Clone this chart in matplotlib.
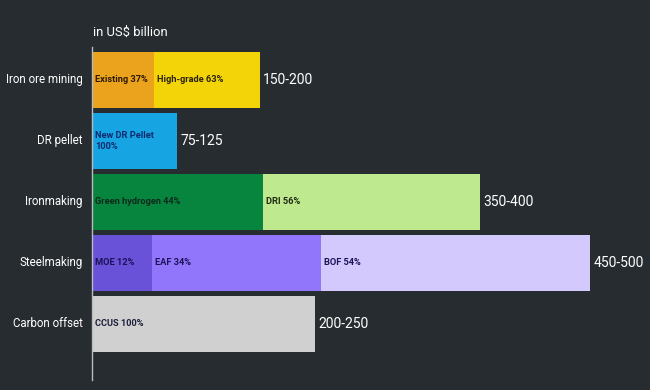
import matplotlib.pyplot as plt

# values in US$ billion (bar lengths)
categories = ["Iron ore mining", "DR pellet", "Ironmaking", "Steelmaking", "Carbon offset"]
totals = [160, 81, 370, 475, 213]
ranges = ["150-200", "75-125", "350-400", "450-500", "200-250"]
seg_names = [["Existing 37%", "High-grade 63%"],
             ["New DR Pellet\n100%"],
             ["Green hydrogen 44%", "DRI 56%"],
             ["MOE 12%", "EAF 34%", "BOF 54%"],
             ["CCUS 100%"]]
seg_shares = [[0.37, 0.63], [1.0], [0.44, 0.56], [0.12, 0.34, 0.54], [1.0]]
seg_colors = [["#eba21c", "#f3d409"], ["#17a4e2"], ["#07843d", "#bfe98f"],
              ["#6a52d8", "#9176fb", "#d3c9fd"], ["#d0d0d0"]]
text_colors = [["#2b1a05", "#2b2205"], ["#0c2a6e"], ["#0d2a1c", "#1d2a12"],
               ["#1b1257", "#1b1257", "#1b1257"], ["#1b1f3a"]]

bg = "#262c30"
plt.rcParams['font.family'] = ['Roboto', 'DejaVu Sans']

fig = plt.figure(figsize=(6.5, 3.9), dpi=100, facecolor=bg)
ax = fig.add_axes([92/650, 10/390, 558/650, 333/390])
ax.set_facecolor(bg)

for i in range(len(categories)):
    left = 0
    for name, share, col, tc in zip(seg_names[i], seg_shares[i], seg_colors[i], text_colors[i]):
        w = totals[i]*share
        ax.barh(i, w, left=left, height=0.92, color=col, edgecolor="none")
        ax.text(left + 3, i, name, va="center", ha="left", fontsize=6.7,
                fontweight="bold", color=tc, linespacing=1.3)
        left += w
    ax.text(totals[i] + 3, i, ranges[i], va="center", ha="left", fontsize=10, color="white")
    ax.text(-9, i, categories[i], va="center", ha="right", fontsize=8.3, color="white")

ax.set_xlim(0, 532)
ax.set_ylim(4.92, -0.54)
for s in ["top", "right", "bottom"]:
    ax.spines[s].set_visible(False)
ax.spines["left"].set_color("#b8bcc0")
ax.spines["left"].set_linewidth(1)
ax.set_xticks([])
ax.set_yticks([])
fig.text(93/650, 1 - 32/390, "in US$ billion", color="white", fontsize=9.4, va="center", ha="left")

fig.savefig("out.png", dpi=100, facecolor=bg)
